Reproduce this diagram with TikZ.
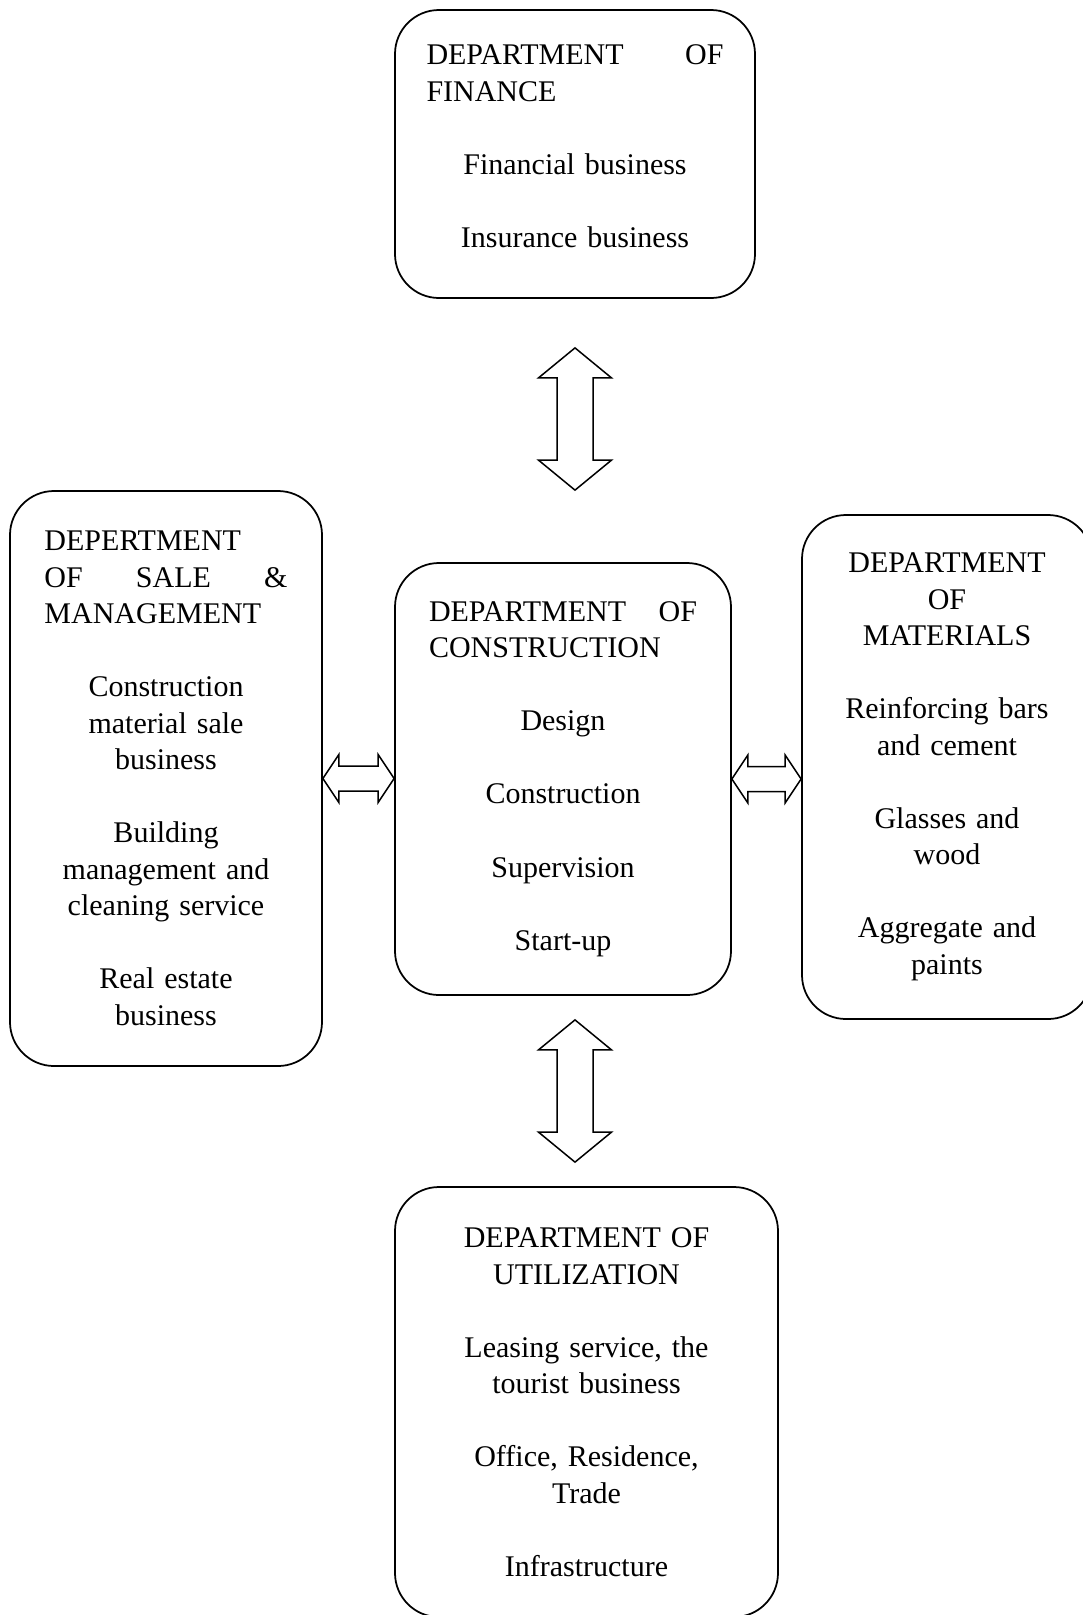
\documentclass[tikz,border=0pt]{standalone}
\usepackage{fontspec}
\setmainfont{Liberation Serif}
\usetikzlibrary{calc}
\tikzset{
  dept/.style={draw, line width=0.7pt, rounded corners=17.6pt, align=center,
    inner ysep=0pt, font=\fontsize{12pt}{14.6pt}\selectfont},
  blockarrow/.style={draw, line width=0.6pt, line join=miter}
}
\newcommand{\skipline}{\\[14.6pt]}
% hollow double arrows, tip to tip
\newcommand{\vblock}[2]{%
  \draw[blockarrow] (#1) -- ++(36.5,30) -- ++(-18.5,0) -- ($(#2)+(18,-30)$) -- ++(18.5,0)
    -- (#2) -- ++(-36.5,-30) -- ++(18.5,0) -- ($(#1)+(-18,30)$) -- ++(-18.5,0) -- cycle;}
\newcommand{\hblock}[2]{%
  \draw[blockarrow] (#1) -- ++(16,-24) -- ++(0,11.5) -- ($(#2)+(-16,-12.5)$) -- ++(0,-11.5)
    -- (#2) -- ++(-16,24) -- ++(0,-11.5) -- ($(#1)+(16,12.5)$) -- ++(0,11.5) -- cycle;}
\begin{document}
\begin{tikzpicture}[x=0.4pt, y=-0.4pt]
\useasboundingbox (0,0) rectangle (1082,1615);
\node[dept, minimum width=144pt, minimum height=115.2pt, text width=118.8pt] (fin) at (575,154)
  {DEPARTMENT\hfill OF\\ FINANCE\hfill\mbox{}\skipline
   Financial business\skipline Insurance business\\[-8.2pt]\mbox{}};
\node[dept, minimum width=124.8pt, minimum height=230pt, text width=97.2pt] (sal) at (166,778.5)
  {DEPERTMENT\hfill\mbox{}\\ OF\hfill SALE\hfill \&\\ MANAGEMENT\hfill\mbox{}\skipline
   Construction\\ material sale\\ business\skipline
   Building\\ management and\\ cleaning service\skipline
   Real estate\\ business};
\node[dept, minimum width=134.4pt, minimum height=172.8pt, text width=107.2pt] (con) at (563,779)
  {DEPARTMENT\hfill OF\\ CONSTRUCTION\hfill\mbox{}\skipline
   Design\skipline Construction\skipline Supervision\skipline Start-up};
\node[dept, minimum width=116pt, minimum height=201.6pt, text width=88pt] (mat) at (947,767)
  {DEPARTMENT\\ OF\\ MATERIALS\skipline
   Reinforcing bars\\ and cement\skipline
   Glasses and\\ wood\skipline
   Aggregate and\\ paints};
\node[dept, minimum width=153.2pt, minimum height=172pt, text width=120pt] (uti) at (586.5,1402)
  {DEPARTMENT OF\\ UTILIZATION\skipline
   Leasing service, the\\ tourist business\skipline
   Office, Residence,\\ Trade\skipline
   Infrastructure};
\vblock{$(fin.south)+(0,49)$}{$(fin.south |- con.north)+(0,-72)$}
\vblock{$(fin.south |- con.south)+(0,24)$}{$(fin.south |- uti.north)+(0,-24)$}
\hblock{sal.east}{sal.east -| con.west}
\hblock{con.east}{con.east -| mat.west}
\end{tikzpicture}
\end{document}
